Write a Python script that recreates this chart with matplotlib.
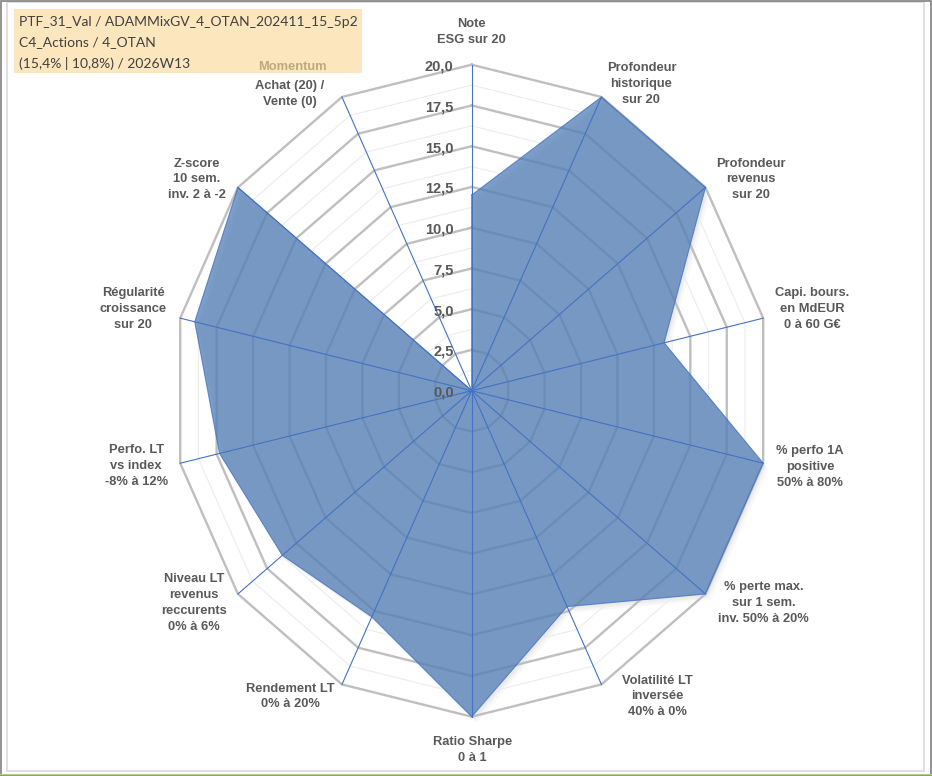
import numpy as np
import matplotlib
matplotlib.use('Agg')
import matplotlib.pyplot as plt
import matplotlib.transforms as mtransforms
from matplotlib.patches import Rectangle
from matplotlib.lines import Line2D

# ---- data ----
categories = [
    "Note\nESG sur 20",
    "Profondeur\nhistorique\nsur 20",
    "Profondeur\nrevenus\nsur 20",
    "Capi. bours.\nen MdEUR\n0 à 60 G€",
    "% perfo 1A\npositive\n50% à 80%",
    "% perte max.\nsur 1 sem.\ninv. 50% à 20%",
    "Volatilité LT\ninversée\n40% à 0%",
    "Ratio Sharpe\n0 à 1",
    "Rendement LT\n0% à 20%",
    "Niveau LT\nrevenus\nreccurents\n0% à 6%",
    "Perfo. LT\nvs index\n-8% à 12%",
    "Régularité\ncroissance\nsur 20",
    "Z-score\n10 sem.\ninv. 2 à -2",
    "Achat (20) /\nVente (0)",
]
scores = [12, 20, 20, 13.2, 20, 20, 14.7, 20, 15.4, 16.2, 17.3, 19, 20, 0]
ticks = [0, 2.5, 5, 7.5, 10, 12.5, 15, 17.5, 20]
tick_labels = ["0,0", "2,5", "5,0", "7,5", "10,0", "12,5", "15,0", "17,5", "20,0"]
minor_ticks = [1.25, 3.75, 6.25, 8.75, 11.25, 13.75, 16.25, 18.75]
title_lines = [
    "PTF_31_Val / ADAMMixGV_4_OTAN_202411_15_5p2",
    "C4_Actions / 4_OTAN",
    "(15,4% | 10,8%) / 2026W13",
]
momentum_label = "Momentum"

# label centre offsets from the spoke ends, in pixels (x right, y down)
label_offsets = [(0, -33), (40, -13), (45, -8), (49, -9), (47, 4), (58, 9), (56, 12),
                 (1, 33), (-52, 12), (-44, 9), (-44, 3), (-47, -9), (-41, -8), (-52, -3)]

W, H = 932, 776
cx, cy = 471.7, 390.7      # centre of the radar in pixels
rx, ry = 299, 326          # radius of the 20 ring (picture is a bit squeezed)
rmax = 20

fig = plt.figure(figsize=(W / 100, H / 100), dpi=100)
ax = fig.add_axes([0, 0, 1, 1])
sx = rx / rmax
sy = ry / rmax
ax.set_xlim(-cx / sx, (W - cx) / sx)
ax.set_ylim(-(H - cy) / sy, cy / sy)
ax.axis('off')

n = len(categories)
theta = 2 * np.pi * np.arange(n) / n
sin_t = np.sin(theta)
cos_t = np.cos(theta)


def ring(r):
    xs = np.append(r * sin_t, r * sin_t[0])
    ys = np.append(r * cos_t, r * cos_t[0])
    return xs, ys


for r in minor_ticks:
    xs, ys = ring(r)
    ax.plot(xs, ys, color='#ECECEC', lw=0.8, zorder=1)
for r in ticks[1:]:
    xs, ys = ring(r)
    ax.plot(xs, ys, color='#BFBFBF', lw=1.7, zorder=1.2, solid_joinstyle='miter')

# data polygon
vals = np.array(scores)
px = np.append(vals * sin_t, vals[0] * sin_t[0])
py = np.append(vals * cos_t, vals[0] * cos_t[0])

# soft shadow
for off, a in [((2, -2), 0.07), ((3, -4), 0.06), ((5, -6), 0.05)]:
    tr = mtransforms.offset_copy(ax.transData, fig=fig, x=off[0], y=off[1], units='dots')
    ax.fill(px, py, facecolor='#808080', alpha=a, edgecolor='none', transform=tr, zorder=0.8)

ax.fill(px, py, facecolor='#4A79B3', alpha=0.72, edgecolor='none', zorder=2)
ax.plot(px, py, color='#4472C4', lw=0.8, alpha=0.8, zorder=2.1)

# spokes
for s, c in zip(sin_t, cos_t):
    ax.plot([0, rmax * s], [0, rmax * c], color='#4472C4', lw=0.8, zorder=3)

# value scale
for t, lbl in zip(ticks, tick_labels):
    ax.annotate(lbl, (0, t), xytext=(-18, -2), textcoords='offset pixels',
                ha='right', va='center', fontsize=10.5, fontweight='bold',
                color='#595959', family='Liberation Sans', zorder=4)

# category labels
for k, lbl in enumerate(categories):
    dx, dy = label_offsets[k]
    ax.annotate(lbl, (rmax * sin_t[k], rmax * cos_t[k]), xytext=(dx, -dy),
                textcoords='offset pixels', ha='center', va='center',
                multialignment='center', linespacing=1.42, fontsize=9.3,
                fontweight='bold', color='#595959', family='Liberation Sans', zorder=4)

ax.annotate(momentum_label, (rmax * sin_t[-1], rmax * cos_t[-1]), xytext=(-50, 30),
            textcoords='offset pixels', ha='center', va='center', fontsize=9.3,
            fontweight='bold', color='#BCA982', family='Liberation Sans', zorder=4)

# title box
fig.add_artist(Rectangle((14 / W, 1 - 73 / H), 348 / W, 64 / H, transform=fig.transFigure,
                         facecolor='#FCE6BE', edgecolor='none', zorder=0))
for i, line in enumerate(title_lines):
    fig.text(19 / W, 1 - (22 + 20.5 * i) / H, line, ha='left', va='center',
             fontsize=10, color='#404040', family='Lato')

# frame
fig.add_artist(Rectangle((7 / W, 1 - 771 / H), 917 / W, 769 / H, transform=fig.transFigure,
                         facecolor='none', edgecolor='#D9D9D9', lw=1.2))
fig.add_artist(Line2D([0, 1], [1 - 773.5 / H] * 2, transform=fig.transFigure,
                      color='#A9D18E', lw=0.8))
fig.add_artist(Rectangle((0.5 / W, 0.5 / H), (W - 1.5) / W, (H - 1.5) / H, transform=fig.transFigure,
                         facecolor='none', edgecolor='#808080', lw=1.2))

fig.savefig('out.png', dpi=100)
